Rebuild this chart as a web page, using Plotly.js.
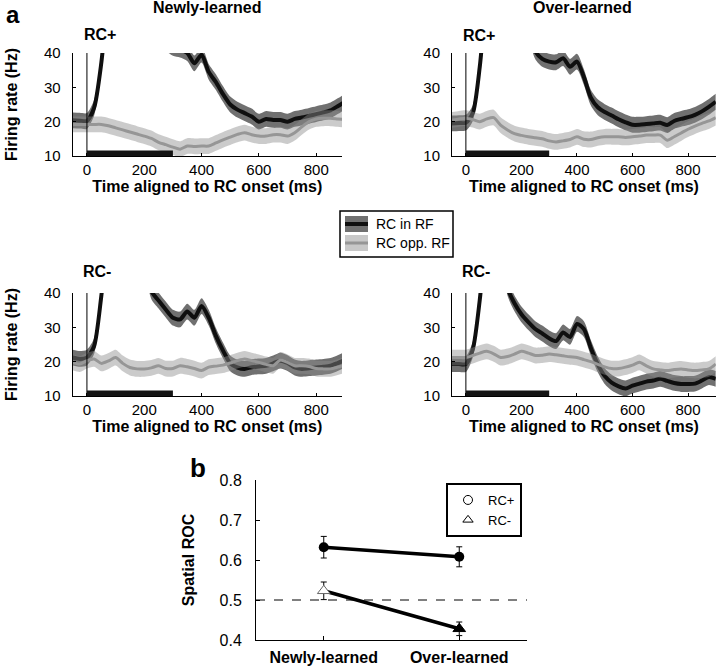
<!DOCTYPE html>
<html>
<head>
<meta charset="utf-8">
<script src="https://cdn.plot.ly/plotly-3.0.1.min.js"></script>
<style>html,body{margin:0;padding:0;background:#fff;}#chart{width:720px;height:668px;}</style>
</head>
<body>
<div id="chart"></div>
<script>
// ---- data ----
const t = [-50,-25,0,25,50,75,100,125,150,175,200,225,250,275,300,325,350,375,400,425,450,475,500,525,550,575,600,625,650,675,700,725,750,775,800,825,850,875,900];

// Newly-learned, RC+
const newPlusIn  = [20.4,20.3,20.2,24,37,58,75,80,78,72,62,52,46,43,41.5,41,40,37,39.5,34.5,31.5,28,25,23.5,22.5,21.5,20,20.8,20.5,20.5,20,20.8,21.2,21.7,22.2,22.7,23.3,24.5,25.8];
const newPlusOpp = [19.2,19.2,19.2,19.2,19.2,18.8,18.2,17.6,17.0,16.4,15.8,15.1,14.0,13.3,12.6,12.0,12.9,12.8,12.9,12.9,13.8,14.7,15.5,16.3,16.8,16.2,15.8,15.8,16.2,16.2,15.8,16.8,18.5,20.0,20.8,21.0,21.0,20.8,20.6];
// Over-learned, RC+
const overPlusIn  = [19.5,19.6,19.7,22.5,36,58,75,80,76,68,58,47,40.5,38.3,37.5,37.3,38.5,36,37.5,33,27,24.2,22.8,21.8,20.7,19.8,19.1,19.1,19.3,19.5,19.7,19.0,20.2,20.8,21.3,22.0,23.0,24.3,25.8];
const overPlusOpp = [20.5,20.8,21,20.6,20.0,20.8,21.2,19.0,17.6,16.5,16.0,15.6,15.3,15.0,14.4,14.1,14.4,14.8,15.6,14.9,14.8,15.3,15.6,15.6,15.6,15.4,15.6,15.8,16.1,16.1,16.1,14.6,15.6,16.7,17.8,18.7,19.5,20.2,21.2];
// Newly-learned, RC-
const newMinusIn  = [21.2,20.8,21.2,24.5,39,58,72,76,72,63,50,40.5,37.8,35.2,32.8,32.3,34.6,32.8,36.2,32.8,27.5,23.2,19.5,18.3,17.9,18.4,18.6,18.8,19.5,20.3,19.6,18.3,17.9,18.1,18.3,18.5,18.8,19.6,20.5];
const newMinusOpp = [19.8,19.3,20.3,20.8,19.5,20.2,21.2,19.5,18.3,17.9,17.9,18.2,18.8,18.0,18.0,18.8,18.5,18.0,17.4,18.4,18.7,19.0,19.6,20.3,20.8,20.3,19.8,19.2,18.8,20.5,19.8,18.8,18.8,18.6,18.0,17.9,17.9,18.4,19.0];
// Over-learned, RC-
const overMinusIn  = [19.3,19.3,19.3,23.6,38,58,66,55,41.5,37,33.8,31.5,29.5,28.2,26.8,26.0,28.5,27.2,31,29.5,24,19.2,15.8,13.9,12.8,12.2,13.0,13.6,14.2,14.5,15.0,14.4,13.8,13.5,13.5,13.6,14.5,15.5,15.0];
const overMinusOpp = [21.2,21.2,21.2,21.8,22.5,23.0,22.3,21.2,21.5,22.2,23.0,22.5,21.8,21.9,22.2,22.0,21.7,21.4,21.2,20.6,20.0,19.2,18.5,18.0,18.0,18.4,19.0,19.8,18.8,17.9,17.6,17.4,17.7,17.9,17.6,17.4,17.6,17.9,19.3];

const semIn = 2.3;    // half-width of the shaded band (RC in RF)
const semOpp = 2.3;   // half-width of the shaded band (RC opp. RF)
const rcWindow = [0, 300];   // RC presentation period (black bar)

const seriesNames = ["RC in RF", "RC opp. RF"];
const columnTitles = ["Newly-learned", "Over-learned"];
const rowTitles = ["RC+", "RC-"];
const timeTicks = [0, 200, 400, 600, 800];
const rateTicks = [10, 20, 30, 40];

// Panel b
const conditions = ["Newly-learned", "Over-learned"];
const rocPlus = [0.632, 0.608];
const rocPlusErr = [0.027, 0.025];
const rocMinus = [0.523, 0.428];
const rocMinusErr = [0.022, 0.017];
const chance = 0.5;
const rocTicks = [0.4, 0.5, 0.6, 0.7, 0.8];
const rocLegend = ["RC+", "RC-"];

// ---- helpers ----
const W = 720, H = 668;
const fx = p => p / W;
const fy = p => 1 - p / H;
const FONT = "Liberation Sans, Arial, Helvetica, sans-serif";

const darkBand = "rgb(112,112,112)";
const darkLine = "rgb(15,15,15)";
const lightBand = "rgba(140,140,140,0.45)";
const lightLine = "rgb(150,150,150)";

function bandTraces(xa, ya, y, sem, fillCol, lineCol, lw, name) {
  const lo = y.map(v => v - sem), hi = y.map(v => v + sem);
  const common = {x: t, xaxis: xa, yaxis: ya, type: "scatter", mode: "lines", showlegend: false, hoverinfo: "skip"};
  return [
    Object.assign({}, common, {y: lo, line: {width: 0, shape: "spline", smoothing: 0.7}}),
    Object.assign({}, common, {y: hi, fill: "tonexty", fillcolor: fillCol, line: {width: 0, shape: "spline", smoothing: 0.7}}),
    Object.assign({}, common, {y: y, name: name, line: {color: lineCol, width: lw, shape: "spline", smoothing: 0.7}})
  ];
}

const panels = [
  {xa: "x",  ya: "y",  inn: newPlusIn,   opp: newPlusOpp},
  {xa: "x2", ya: "y2", inn: overPlusIn,  opp: overPlusOpp},
  {xa: "x3", ya: "y3", inn: newMinusIn,  opp: newMinusOpp},
  {xa: "x4", ya: "y4", inn: overMinusIn, opp: overMinusOpp}
];

let data = [];
panels.forEach(p => {
  data = data.concat(bandTraces(p.xa, p.ya, p.inn, semIn, darkBand, darkLine, 4, seriesNames[0]));
  data = data.concat(bandTraces(p.xa, p.ya, p.opp, semOpp, lightBand, lightLine, 3, seriesNames[1]));
});

// panel b
data.push({
  x: conditions, y: rocPlus, xaxis: "x5", yaxis: "y5", type: "scatter", mode: "lines+markers",
  name: rocLegend[0], showlegend: false,
  line: {color: "black", width: 3.5},
  marker: {symbol: "circle", size: 10, color: "black"},
  error_y: {type: "data", array: rocPlusErr, visible: true, color: "black", thickness: 1, width: 3}
});
data.push({
  x: conditions, y: rocMinus, xaxis: "x5", yaxis: "y5", type: "scatter", mode: "lines+markers",
  name: rocLegend[1], showlegend: false,
  line: {color: "black", width: 3.5},
  marker: {symbol: "triangle-up", size: 11, color: ["white", "black"], line: {color: ["#666", "black"], width: 1}},
  error_y: {type: "data", array: rocMinusErr, visible: true, color: "black", thickness: 1, width: 3}
});
// legend entries for panel b
data.push({x: [null], y: [null], xaxis: "x5", yaxis: "y5", type: "scatter", mode: "markers", name: rocLegend[0],
  marker: {symbol: "circle-open", size: 9, color: "black", line: {width: 1}}, showlegend: true});
data.push({x: [null], y: [null], xaxis: "x5", yaxis: "y5", type: "scatter", mode: "markers", name: rocLegend[1],
  marker: {symbol: "triangle-up-open", size: 9, color: "black", line: {width: 1}}, showlegend: true});

// ---- axes ----
const leftDom = [fx(72.6), fx(342)];
const rightDom = [fx(452), fx(715.8)];
const topDom = [fy(156), fy(53)];
const botDom = [fy(396), fy(293)];

function xAxis(dom, anchor, range) {
  return {
    domain: dom, anchor: anchor, range: range, tickvals: timeTicks,
    showline: true, linecolor: "black", linewidth: 1, ticks: "inside", ticklen: 3, tickcolor: "black",
    showgrid: false, zeroline: false, automargin: false,
    tickfont: {family: FONT, size: 15, color: "black"},
    title: {text: "Time aligned to RC onset (ms)", font: {family: FONT, size: 16, color: "black", weight: "bold"}, standoff: 3}
  };
}
function yAxis(dom, anchor, withTitle) {
  return {
    domain: dom, anchor: anchor, range: [10, 40], tickvals: rateTicks,
    showline: true, linecolor: "black", linewidth: 1, ticks: "inside", ticklen: 3, tickcolor: "black",
    showgrid: false, zeroline: false, automargin: false, ticklabelstandoff: 8,
    tickfont: {family: FONT, size: 15, color: "black"},
    title: withTitle ? {text: "Firing rate (Hz)", font: {family: FONT, size: 16, color: "black", weight: "bold"}, standoff: 22} : {text: ""}
  };
}

const shapes = [];
const annotations = [];
panels.forEach((p, i) => {
  shapes.push({type: "line", xref: p.xa, yref: p.ya + " domain", x0: 0, x1: 0, y0: 0, y1: 1, line: {color: "black", width: 1}, layer: "above"});
  shapes.push({type: "rect", xref: p.xa, yref: p.ya, x0: rcWindow[0], x1: rcWindow[1], y0: 10, y1: 11.6, fillcolor: "rgb(20,20,20)", line: {width: 0}, layer: "above"});
});
// dashed chance line
shapes.push({type: "line", xref: "x5 domain", yref: "y5", x0: 0, x1: 1, y0: chance, y1: chance, line: {color: "black", width: 1, dash: "dash"}, layer: "below"});

// legend for panel a (drawn in paper space)
shapes.push({type: "rect", xref: "paper", yref: "paper", x0: fx(340), x1: fx(453), y0: fy(257), y1: fy(211), line: {color: "black", width: 1.5}, fillcolor: "white"});
shapes.push({type: "rect", xref: "paper", yref: "paper", x0: fx(345), x1: fx(368), y0: fy(232), y1: fy(216), line: {width: 0}, fillcolor: darkBand});
shapes.push({type: "line", xref: "paper", yref: "paper", x0: fx(345), x1: fx(368), y0: fy(224), y1: fy(224), line: {color: darkLine, width: 4}});
shapes.push({type: "rect", xref: "paper", yref: "paper", x0: fx(345), x1: fx(368), y0: fy(251), y1: fy(235), line: {width: 0}, fillcolor: "rgb(200,200,200)"});
shapes.push({type: "line", xref: "paper", yref: "paper", x0: fx(345), x1: fx(368), y0: fy(243), y1: fy(243), line: {color: lightLine, width: 3}});

function ann(text, x, y, size, opts) {
  annotations.push(Object.assign({text: text, xref: "paper", yref: "paper", x: fx(x), y: fy(y), showarrow: false,
    xanchor: "center", yanchor: "middle", font: {family: FONT, size: size, color: "black"}}, opts || {}));
}
ann("<b>a</b>", 13, 15, 24);
ann("<b>" + columnTitles[0] + "</b>", 207, 8, 16);
ann("<b>" + columnTitles[1] + "</b>", 582, 8, 16);
ann("<b>" + rowTitles[0] + "</b>", 100, 34, 16);
ann("<b>" + rowTitles[0] + "</b>", 479, 35, 16);
ann("<b>" + rowTitles[1] + "</b>", 97, 271, 16);
ann("<b>" + rowTitles[1] + "</b>", 476, 271, 16);
ann(seriesNames[0], 374, 224, 14, {xanchor: "left"});
ann(seriesNames[1], 374, 243, 14, {xanchor: "left"});
ann("<b>b</b>", 198, 468, 26);

const layout = {
  width: W, height: H,
  margin: {l: 0, r: 0, t: 0, b: 0},
  paper_bgcolor: "white", plot_bgcolor: "rgba(0,0,0,0)",
  font: {family: FONT, color: "black"},
  showlegend: true,
  legend: {x: fx(446), y: fy(483), xanchor: "left", yanchor: "top", bordercolor: "black", borderwidth: 2,
    bgcolor: "white", font: {family: FONT, size: 13, color: "black"}, itemwidth: 30, tracegroupgap: 0,
    traceorder: "normal"},
  xaxis: xAxis(leftDom, "y", [-50, 890]),
  yaxis: yAxis(topDom, "x", true),
  xaxis2: xAxis(rightDom, "y2", [-50, 900]),
  yaxis2: yAxis(topDom, "x2", false),
  xaxis3: xAxis(leftDom, "y3", [-50, 890]),
  yaxis3: yAxis(botDom, "x3", true),
  xaxis4: xAxis(rightDom, "y4", [-50, 900]),
  yaxis4: yAxis(botDom, "x4", false),
  xaxis5: {
    domain: [fx(256), fx(527)], anchor: "y5", type: "category", range: [-0.5, 1.5],
    showline: true, linecolor: "black", linewidth: 1, ticks: "inside", ticklen: 4, tickcolor: "black",
    showgrid: false, zeroline: false, automargin: false, ticklabelstandoff: 3,
    tickfont: {family: FONT, size: 16, color: "black", weight: "bold"}
  },
  yaxis5: {
    domain: [fy(640), fy(480)], anchor: "x5", range: [0.4, 0.8], tickvals: rocTicks, tickformat: ".1f",
    showline: true, linecolor: "black", linewidth: 1, ticks: "inside", ticklen: 4, tickcolor: "black",
    showgrid: false, zeroline: false, automargin: false, ticklabelstandoff: 10,
    tickfont: {family: FONT, size: 16, color: "black"},
    title: {text: "Spatial ROC", font: {family: FONT, size: 16, color: "black", weight: "bold"}, standoff: 20}
  },
  shapes: shapes,
  annotations: annotations
};

Plotly.newPlot("chart", data, layout, {displayModeBar: false, staticPlot: true});
</script>
</body>
</html>
